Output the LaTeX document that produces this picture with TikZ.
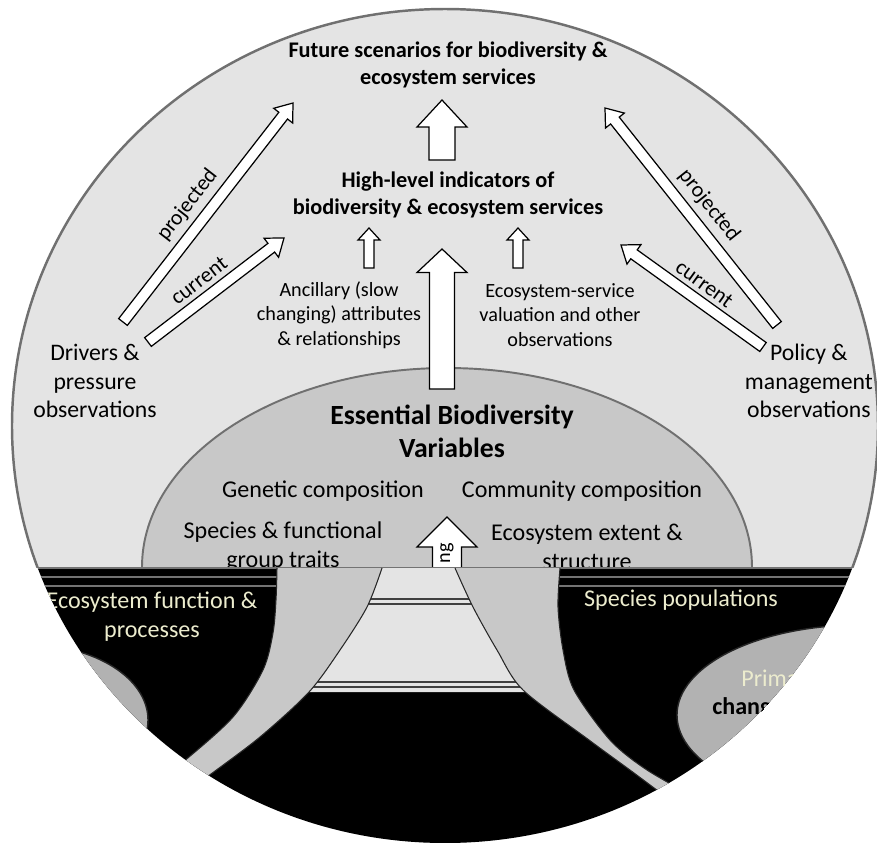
\documentclass[tikz,border=0pt]{standalone}
\usepackage{fontspec}
\setmainfont{Carlito}
\usetikzlibrary{positioning, calc}
\definecolor{bgout}{RGB}{228,228,228}
\definecolor{bgebv}{RGB}{200,200,200}
\definecolor{rimgray}{RGB}{112,112,112}
\definecolor{blobgray}{RGB}{178,178,178}
\definecolor{paletxt}{RGB}{236,236,206}
\newcommand{\blockarrow}[5]{%
  \coordinate (ba_h) at ($(#2)!#5!(#1)$);
  \draw[blockarr] ($(#1)!#3!90:(#2)$) -- ($(ba_h)!#3!90:(#2)$) -- ($(ba_h)!#4!90:(#2)$) -- (#2)
    -- ($(ba_h)!#4!-90:(#2)$) -- ($(ba_h)!#3!-90:(#2)$) -- ($(#1)!#3!-90:(#2)$) -- cycle;}

\begin{document}
\begin{tikzpicture}[x=0.02cm, y=-0.02cm, node distance=2.6cm, on grid, inner sep=0pt,
    blockarr/.style={draw=black, fill=white, line width=0.7pt, line join=miter},
    rimline/.style={draw=rimgray, line width=1.4pt},
    ttl/.style={font=\bfseries\fontsize{12.7}{15.2}\selectfont, align=center},
    sml/.style={font=\fontsize{11.5}{13.9}\selectfont, align=center},
    obs/.style={font=\fontsize{13.5}{16.4}\selectfont, align=center},
    lbl/.style={font=\fontsize{12.4}{14}\selectfont},
    ebvitem/.style={font=\fontsize{13.7}{16.6}\selectfont, align=center},
    ribbon/.style={fill=bgebv},
    ribedge/.style={draw=black!85, line width=0.6pt},
    blob/.style={fill=blobgray, draw=black!85, line width=0.8pt},
    stripeline/.style={draw=black!55, line width=1pt}]
  \useasboundingbox (0,0) rectangle (877,843);
  \fill[bgout] (445,426) ellipse (433 and 417);
  \filldraw[fill=bgebv, draw=rimgray, line width=1.1pt] (447,567) ellipse (305 and 199);

  \node[ttl] (txt_fut) at (448,65) {Future scenarios for biodiversity \&\\ecosystem services};
  \node[ttl] (txt_hl) [below=of txt_fut] {High-level indicators of\\biodiversity \& ecosystem services};
  \node[sml] (txt_anc) at (339,315) {Ancillary (slow\\changing) attributes\\\& relationships};
  \node[sml] (txt_val) [right=4.42cm of txt_anc] {Ecosystem-service\\valuation and other\\observations};
  \node[obs] (txt_drv) at (95,381) {Drivers \&\\pressure\\observations};
  \node[obs] (txt_pol) [right=14.28cm of txt_drv] {Policy \&\\management\\observations};
  \node[font=\bfseries\fontsize{15.8}{18.6}\selectfont, align=center] (txt_ebv) at (452,431) {Essential Biodiversity\\Variables};
  \node[ebvitem] (txt_gen) at (323,491) {Genetic composition};
  \node[ebvitem] (txt_com) at (582,491) {Community composition};
  \node[ebvitem] (txt_spt) at (283,547) {Species \& functional\\group traits};
  \node[ebvitem] (txt_eco) at (587,547) {Ecosystem extent \&\\structure};

  \coordinate (drv_p) at (123,322); \coordinate (fut_l) at (293,103);
  \coordinate (drv_c) at (148,342); \coordinate (hl_l) at (284,238);
  \coordinate (pol_p) at (777,325); \coordinate (fut_r) at (605,108);
  \coordinate (pol_c) at (763,347); \coordinate (hl_r) at (621,245);
  \coordinate (hl_top) at (442,160); \coordinate (fut_bot) at (442,100);
  \coordinate (ebv_top) at (442,389); \coordinate (hl_bot) at (442,249);
  \coordinate (anc_top) at (369,268); \coordinate (hl_a) at (369,228);
  \coordinate (val_top) at (518,268); \coordinate (hl_v) at (518,228);
  \coordinate (lev_bot) at (447,600); \coordinate (ebv_mid) at (447,517);

  \blockarrow{drv_p}{fut_l}{0.11cm}{0.24cm}{0.32cm}
  \blockarrow{drv_c}{hl_l}{0.11cm}{0.24cm}{0.32cm}
  \blockarrow{pol_p}{fut_r}{0.11cm}{0.24cm}{0.32cm}
  \blockarrow{pol_c}{hl_r}{0.11cm}{0.24cm}{0.32cm}
  \blockarrow{hl_top}{fut_bot}{0.26cm}{0.5cm}{0.54cm}
  \blockarrow{ebv_top}{hl_bot}{0.25cm}{0.5cm}{0.47cm}
  \blockarrow{anc_top}{hl_a}{0.1cm}{0.22cm}{0.24cm}
  \blockarrow{val_top}{hl_v}{0.1cm}{0.22cm}{0.24cm}
  \blockarrow{lev_bot}{ebv_mid}{0.29cm}{0.6cm}{0.6cm}

  \node[lbl, rotate=52.2] (lbl_lp) at (187.5,205) {projected};
  \node[lbl, rotate=37.4] (lbl_lc) at (199,280.5) {current};
  \node[lbl, rotate=-51.6] (lbl_rp) at (709,205.5) {projected};
  \node[lbl, rotate=-35.7] (lbl_rc) at (704.5,284) {current};
  \node[sml, rotate=90] (txt_ng) at (447,553) {ng};

  \begin{scope}
    \clip (445,426) ellipse (433 and 417);
    \fill[black] (0,567) rectangle (877,850);
    \draw[stripeline] (0,568) -- (877,568) (0,577) -- (877,577) (0,586) -- (877,586);
    \fill[bgout] (330,568) -- (500,568) -- (545,692) -- (285,692) -- cycle;
    \draw[black!75, line width=0.6pt] (285,599) -- (545,599) (285,604) -- (545,604)
      (285,682) -- (545,682) (285,687) -- (545,687);
    \fill[ribbon] plot[smooth] coordinates {(277,568) (276,600) (273,633) (263,670) (233,717) (183,762) (140,795)}
      -- plot[smooth] coordinates {(170,805) (207,777) (260,737) (309,692) (340,650) (367,607) (382,568)} -- cycle;
    \draw[ribedge] plot[smooth] coordinates {(277,568) (276,600) (273,633) (263,670) (233,717) (183,762) (140,795)};
    \draw[ribedge] plot[smooth] coordinates {(382,568) (367,607) (340,650) (309,692) (260,737) (207,777) (170,805)};
    \fill[ribbon] plot[smooth] coordinates {(455,568) (473,607) (497,650) (523,690) (589,740) (634,773) (670,800)}
      -- plot[smooth] coordinates {(700,800) (647,770) (610,740) (574,690) (563,650) (558,607) (560,568)} -- cycle;
    \draw[ribedge] plot[smooth] coordinates {(455,568) (473,607) (497,650) (523,690) (589,740) (634,773) (670,800)};
    \draw[ribedge] plot[smooth] coordinates {(560,568) (558,607) (563,650) (574,690) (610,740) (647,770) (700,800)};
    \filldraw[blob] (30,720) ellipse (118 and 75);
    \filldraw[blob] (860,715) ellipse (183 and 90);
    \node[ebvitem, text=paletxt] (txt_fun) at (152,617) {Ecosystem function \&\\processes};
    \node[ebvitem, text=paletxt] (txt_pop) at (681,600) {Species populations};
    \node[ebvitem, text=paletxt, anchor=west] (txt_pri) at (741,678) {Prima};
    \node[ebvitem, font=\bfseries\fontsize{13.7}{16.6}\selectfont, anchor=west] (txt_chg) at (712,708) {chang};
  \end{scope}

  \begin{scope}
    \clip (0,0) rectangle (877,567);
    \draw[rimline] (445,426) ellipse (433 and 417);
  \end{scope}
\end{tikzpicture}
\end{document}
